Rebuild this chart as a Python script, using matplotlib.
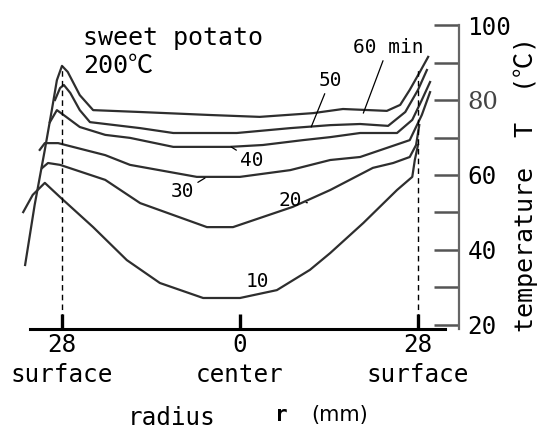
import matplotlib
matplotlib.use("Agg")
import matplotlib.pyplot as plt

plt.rcParams['font.family'] = ['DejaVu Sans Mono', 'Noto Sans CJK JP']

# radius r (mm, negative = left half) and temperature T (degC) per heating time
r_10 = [-34.1, -32.6, -30.7, -28.3, -23.1, -17.8, -12.6, -5.8, 0.0, 5.8, 11.0, 14.2, 19.4, 24.7, 27.1, 27.5, 28.0]
t_10 = [50.1, 54.7, 57.9, 54.1, 46.1, 37.3, 31.2, 27.2, 27.2, 29.3, 34.7, 39.2, 47.2, 56.0, 59.5, 64.0, 68.0]

r_20 = [-31.1, -30.2, -28.3, -21.2, -15.7, -5.2, -1.1, 8.3, 14.2, 20.9, 24.1, 26.7, 27.7, 28.2]
t_20 = [61.9, 63.2, 62.7, 58.7, 52.5, 46.1, 46.1, 51.5, 56.0, 61.9, 63.2, 64.8, 68.0, 73.3]

r_30 = [-31.5, -30.7, -28.6, -21.2, -17.3, -6.8, 0.0, 7.9, 14.2, 18.9, 26.7, 28.6, 29.9]
t_30 = [66.7, 68.5, 68.5, 65.3, 62.7, 59.5, 59.5, 61.3, 64.0, 64.8, 69.3, 76.0, 82.1]

r_40 = [-29.9, -28.8, -27.5, -25.2, -21.2, -17.3, -10.5, -1.6, 3.6, 9.9, 14.2, 18.9, 24.7, 27.1, 28.6, 29.9]
t_40 = [74.1, 77.3, 75.7, 72.8, 70.7, 69.9, 67.5, 67.5, 68.0, 69.3, 70.1, 71.2, 71.2, 74.7, 80.0, 84.8]

r_50 = [-29.1, -28.3, -27.7, -26.7, -25.2, -23.6, -15.7, -10.5, -0.5, 7.9, 14.2, 18.9, 23.3, 26.0, 28.0, 29.4]
t_50 = [80.0, 83.2, 84.0, 81.9, 77.3, 74.1, 72.5, 71.2, 71.2, 72.5, 73.3, 73.6, 73.1, 76.8, 82.7, 88.0]

r_60 = [-33.8, -32.3, -30.7, -29.6, -28.8, -28.0, -27.1, -25.2, -23.1, -15.7, -4.7, 3.1, 11.5, 16.2, 23.1, 25.2, 26.7, 28.3, 29.6]
t_60 = [36.0, 52.0, 66.7, 77.3, 85.3, 89.1, 87.5, 81.3, 77.3, 76.8, 76.0, 75.5, 76.5, 77.6, 77.1, 78.7, 82.7, 87.5, 91.5]

curves = [(r_10, t_10), (r_20, t_20), (r_30, t_30), (r_40, t_40), (r_50, t_50), (r_60, t_60)]

# curve labels: text, label position, point on curve for the leader
labels = ["10", "20", "30", "40", "50", "60 min"]
label_pos = [(2.8, 31.5), (7.9, 53.3), (-9.1, 55.5), (1.9, 64.0), (14.2, 85.3), (23.3, 94.1)]
leader_end = [None, (10.6, 52.6), (-5.5, 59.2), (-1.4, 67.5), (11.2, 72.8), (19.4, 76.5)]

surface_r = [-28, 28]
surface_top = [89.0, 88.0]

x_ticks = [-28, 0, 28]
x_ticklabels = ["28\nsurface", "0\ncenter", "28\nsurface"]
y_major = [20, 40, 60, 80, 100]
y_minor = [30, 50, 70, 90]

W, H = 548, 432
fig = plt.figure(figsize=(W / 100, H / 100), dpi=100)
ax = fig.add_axes([0, 103 / H, 459 / W, 329 / H])
ax.set_xlim(-37.75, 34.45)
ax.set_ylim(18.93, 106.67)

for rr, tt in curves:
    ax.plot(rr, tt, color='#2e2e2e', lw=1.6, solid_joinstyle='round')

ax.vlines(surface_r, 18.93, surface_top, colors='black', linestyles=(0, (4, 3)), lw=1.0)

for txt, pos, end in zip(labels, label_pos, leader_end):
    if end is None:
        ax.text(pos[0], pos[1], txt, fontsize=14, ha='center', va='center')
    else:
        ax.annotate(txt, xy=end, xytext=pos, fontsize=14, ha='center', va='center',
                    arrowprops=dict(arrowstyle='-', lw=0.9, color='black',
                                    shrinkA=1, shrinkB=0))

ax.spines['top'].set_visible(False)
ax.spines['left'].set_visible(False)
ax.spines['bottom'].set_bounds(-33.0, 32.2)
ax.spines['bottom'].set_linewidth(2.2)
ax.spines['right'].set_bounds(18.93, 100)
ax.spines['right'].set_linewidth(1.6)
ax.spines['right'].set_color('#666666')

ax.set_xticks(x_ticks)
ax.set_xticklabels(x_ticklabels)
ax.tick_params(axis='x', direction='in', length=11, width=2.4, pad=3, labelsize=17.5)
for lbl in ax.get_xticklabels():
    lbl.set_linespacing(1.3)

ax.yaxis.tick_right()
ax.set_yticks(y_major)
ax.set_yticks(y_minor, minor=True)
ax.tick_params(axis='y', which='both', direction='in', length=18, width=1.8,
               color='#555555', pad=6, labelsize=17.5)
for lbl in ax.get_yticklabels():
    if lbl.get_text() == "80":
        lbl.set_fontfamily('DejaVu Serif')
        lbl.set_color('#444444')


def fx(x):
    return x / W


def fy(y):
    return 1 - y / H


fig.text(fx(83), fy(45), "sweet potato", fontsize=18, va='baseline')
fig.text(fx(83), fy(73), "200℃", fontsize=18, va='baseline')

fig.text(fx(526), fy(332), "temperature  T  (℃)", fontsize=18, rotation=90,
         ha='center', va='bottom')

fig.text(fx(128), fy(425), "radius", fontsize=17.5, va='baseline')
fig.text(fx(281), fy(421), "r", fontsize=15, fontweight='bold', ha='center', va='baseline')
fig.text(fx(311), fy(421), "(mm)", fontsize=15, family='DejaVu Sans', va='baseline')

fig.savefig("out.png", dpi=100)
